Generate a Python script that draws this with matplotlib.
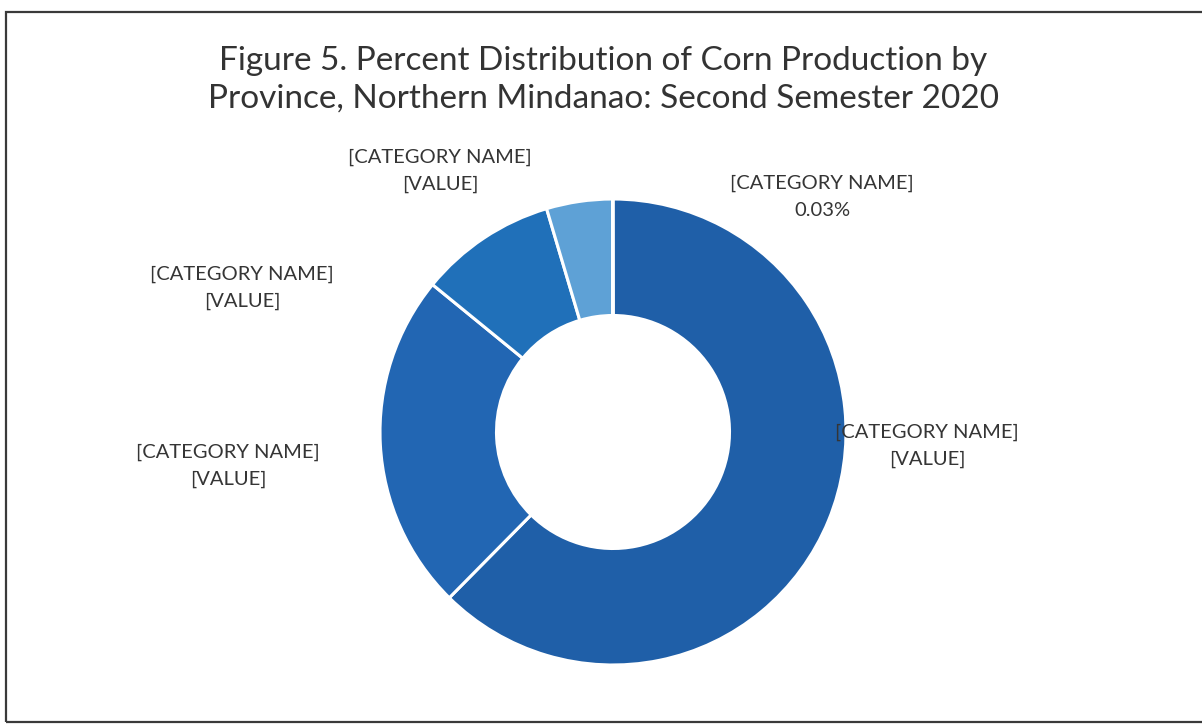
import matplotlib
matplotlib.use("Agg")
import matplotlib.pyplot as plt
from matplotlib.patches import Rectangle

# Share of second-semester 2020 corn production, clockwise from 12 o'clock
categories = ["[CATEGORY NAME]"] * 5
shares = [62.4, 23.5, 9.5, 4.57, 0.03]
value_labels = ["[VALUE]", "[VALUE]", "[VALUE]", "[VALUE]", "0.03%"]
colors = ["#1f5fa8", "#2266b3", "#2070b9", "#5ea1d6", "#1a4f8c"]

title = ("Figure 5. Percent Distribution of Corn Production by\n"
         "Province, Northern Mindanao: Second Semester 2020")

W, H = 1202, 726
fig = plt.figure(figsize=(W / 100, H / 100), dpi=100)
fig.patch.set_facecolor("white")

# Chart frame (right edge runs past the canvas)
fig.patches.append(Rectangle((6 / W, 4 / H), 1.2, 710 / H, transform=fig.transFigure,
                             fill=False, edgecolor="#3a3a3a", linewidth=1.6))

# Donut axes: centre at (613, 432) px, outer radius 233 px
cx, cy, R = 613, 432, 233
half = 300
ax = fig.add_axes([(cx - half) / W, (H - cy - half) / H, 2 * half / W, 2 * half / H])

ax.pie(shares, colors=colors, startangle=90, counterclock=False, radius=1.0,
       wedgeprops=dict(width=0.5, edgecolor="white", linewidth=2.2))
ax.set_xlim(-half / R, half / R)
ax.set_ylim(-half / R, half / R)
ax.set_aspect("equal")
ax.axis("off")

def to_data(px, py):
    return (px - cx) / R, (cy - py) / R

# Data label centres (pixel positions of each two-line block)
label_pos = [(927, 446), (228, 466), (242, 288), (440, 171), (822, 197)]
font = ["Lato", "DejaVu Sans"]
for cat, val, (px, py) in zip(categories, value_labels, label_pos):
    x, y = to_data(px, py)
    ax.text(x, y, f"{cat}\n{val}", ha="center", va="center", fontsize=14.5,
            color="#353535", family=font, linespacing=1.7, clip_on=False)

fig.text(603 / W, 1 - 80 / H, title, ha="center", va="center", fontsize=24,
         color="#333333", family=font, linespacing=1.33)

fig.savefig("out.png", dpi=100, facecolor="white")
